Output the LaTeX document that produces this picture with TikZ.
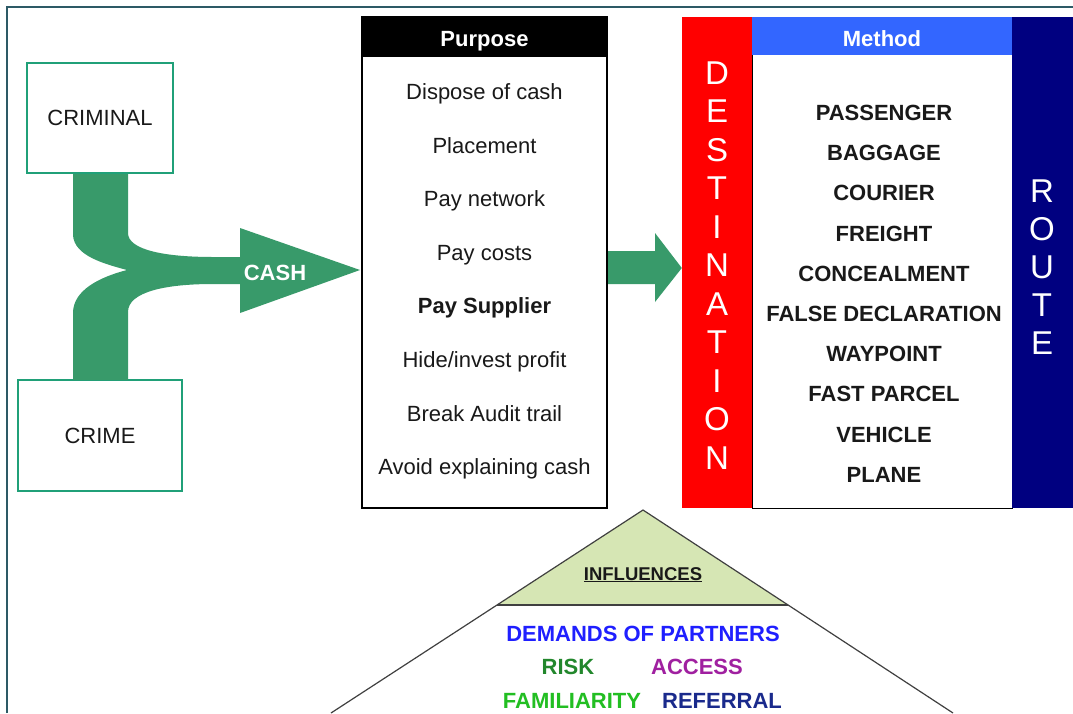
\documentclass[tikz,border=0pt]{standalone}
\usepackage{fontspec}
\setmainfont{Liberation Sans}
\definecolor{framec}{RGB}{45,90,102}
\definecolor{boxgreen}{RGB}{32,160,120}
\definecolor{flowgreen}{RGB}{56,154,106}
\definecolor{destred}{RGB}{255,0,0}
\definecolor{methblue}{RGB}{51,102,255}
\definecolor{routenavy}{RGB}{0,0,128}
\definecolor{trifill}{RGB}{214,230,180}
\definecolor{txt}{RGB}{25,25,25}
\definecolor{cdemand}{RGB}{31,31,255}
\definecolor{crisk}{RGB}{34,135,44}
\definecolor{caccess}{RGB}{160,32,160}
\definecolor{cfamil}{RGB}{34,190,34}
\definecolor{creferral}{RGB}{26,42,140}
\newcommand\fsz[1]{\fontsize{#1}{#1}\selectfont}
\begin{document}
\begin{tikzpicture}[x=1pt,y=-1pt,
  srcbox/.style={draw=boxgreen,line width=2pt,fill=white,inner sep=0pt,font=\fsz{22},text=txt},
  item/.style={anchor=base,font=\fsz{22},text=txt},
  mitem/.style={anchor=base,font=\fsz{22}\bfseries,text=txt},
  bigletter/.style={anchor=base,font=\fsz{33},text=white},
  hdr/.style={anchor=base,font=\fsz{22}\bfseries,text=white},
  infl/.style={anchor=base,font=\fsz{22}\bfseries}]
\useasboundingbox (0,0) rectangle (1073,713);
\fill[white] (0,0) rectangle (1073,713);
\draw[framec,line width=1.5pt] (7,713) -- (7,7) -- (1073,7);

% source boxes
\node[srcbox,minimum width=146pt,minimum height=110pt] (criminal) at (100,118) {CRIMINAL};
\node[srcbox,minimum width=164pt,minimum height=111pt] (crime) at (100,435.5) {CRIME};

% flow shape
\fill[flowgreen] (73,174) -- (73,235)
  .. controls (74,256) and (105,264) .. (127,270)
  .. controls (100,277) and (73,290) .. (73,313)
  -- (73,380) -- (128,380) -- (128,312)
  .. controls (128,292) and (165,284) .. (213,284)
  -- (240,284) -- (240,313) -- (360,270) coordinate (cashtip) -- (240,228) -- (240,257) -- (213,257)
  .. controls (165,257) and (128,250) .. (128,233) -- (128,174) -- cycle;
\node[hdr] (cash) at (275,280) {CASH};

% purpose box
\node[draw=black,line width=2pt,fill=white,minimum width=245pt,minimum height=491pt] (purpose) at (484.5,262.5) {};
\fill[black] (purpose.north west) rectangle (607,57);
\node[hdr] (purposehdr) at (484.5,46) {Purpose};
\node[item] (p1) at (484.5,99) {Dispose of cash};
\node[item] (p2) at (484.5,153) {Placement};
\node[item] (p3) at (484.5,206) {Pay network};
\node[item] (p4) at (484.5,260) {Pay costs};
\node[item,font=\fsz{22}\bfseries] (p5) at (484.5,313) {Pay Supplier};
\node[item] (p6) at (484.5,367) {Hide/invest profit};
\node[item] (p7) at (484.5,421) {Break Audit trail};
\node[item] (p8) at (484.5,474) {Avoid explaining cash};

% destination column
\node[fill=destred,minimum width=70pt,minimum height=491pt,inner sep=0pt] (dest) at (717,262.5) {};
\foreach \l/\yy in {D/72,E/110.5,S/149,T/187.5,I/226,N/264.5,A/303,T/341.5,I/380,O/418.5,N/457}
  \node[bigletter] at (717,\yy+12) {\l};

% method box
\node[draw=black,line width=1pt,fill=white,minimum width=260pt,minimum height=491pt,inner sep=0pt] (method) at (882,262.5) {};
\fill[methblue] (752,17) rectangle (1012,55);
\node[hdr] (methodhdr) at (882,46) {Method};
\foreach \t/\yy in {PASSENGER/112,BAGGAGE/152,COURIER/192,FREIGHT/233,CONCEALMENT/273,FALSE DECLARATION/313,WAYPOINT/353,FAST PARCEL/393,VEHICLE/434,PLANE/474}
  \node[mitem] at (884,\yy+8) {\t};

% route column
\node[fill=routenavy,minimum width=61pt,minimum height=491pt,inner sep=0pt] (route) at (1042.5,262.5) {};
\foreach \l/\yy in {R/190,O/228,U/266,T/304,E/342}
  \node[bigletter] at (1042,\yy+12) {\l};

% arrow purpose -> destination
\fill[flowgreen] (purpose.east |- 0,251) -- (655,251) -- (655,233) -- (dest.west |- 0,268) -- (655,302) -- (655,284) -- (purpose.east |- 0,284) -- cycle;

% influences triangle
\coordinate (apex) at (643,510);
\fill[trifill] (apex) -- (497,605) -- (788,605) -- cycle;
\draw[black!75,line width=1.2pt] (331,713) -- (apex) -- (953,713);
\draw[black!75,line width=1.2pt] (497,605) -- (788,605);
\node[anchor=base,font=\fsz{18.5}\bfseries,text=txt] (influences) at (643,580) {\underline{INFLUENCES}};
\node[infl,text=cdemand] (demands) at (643,641) {DEMANDS OF PARTNERS};
\node[infl,text=crisk] (risk) at (568,674) {RISK};
\node[infl,text=caccess] (access) at (697,674) {ACCESS};
\node[infl,text=cfamil] (familiarity) at (572,708) {FAMILIARITY};
\node[infl,text=creferral] (referral) at (722,708) {REFERRAL};
\end{tikzpicture}
\end{document}
